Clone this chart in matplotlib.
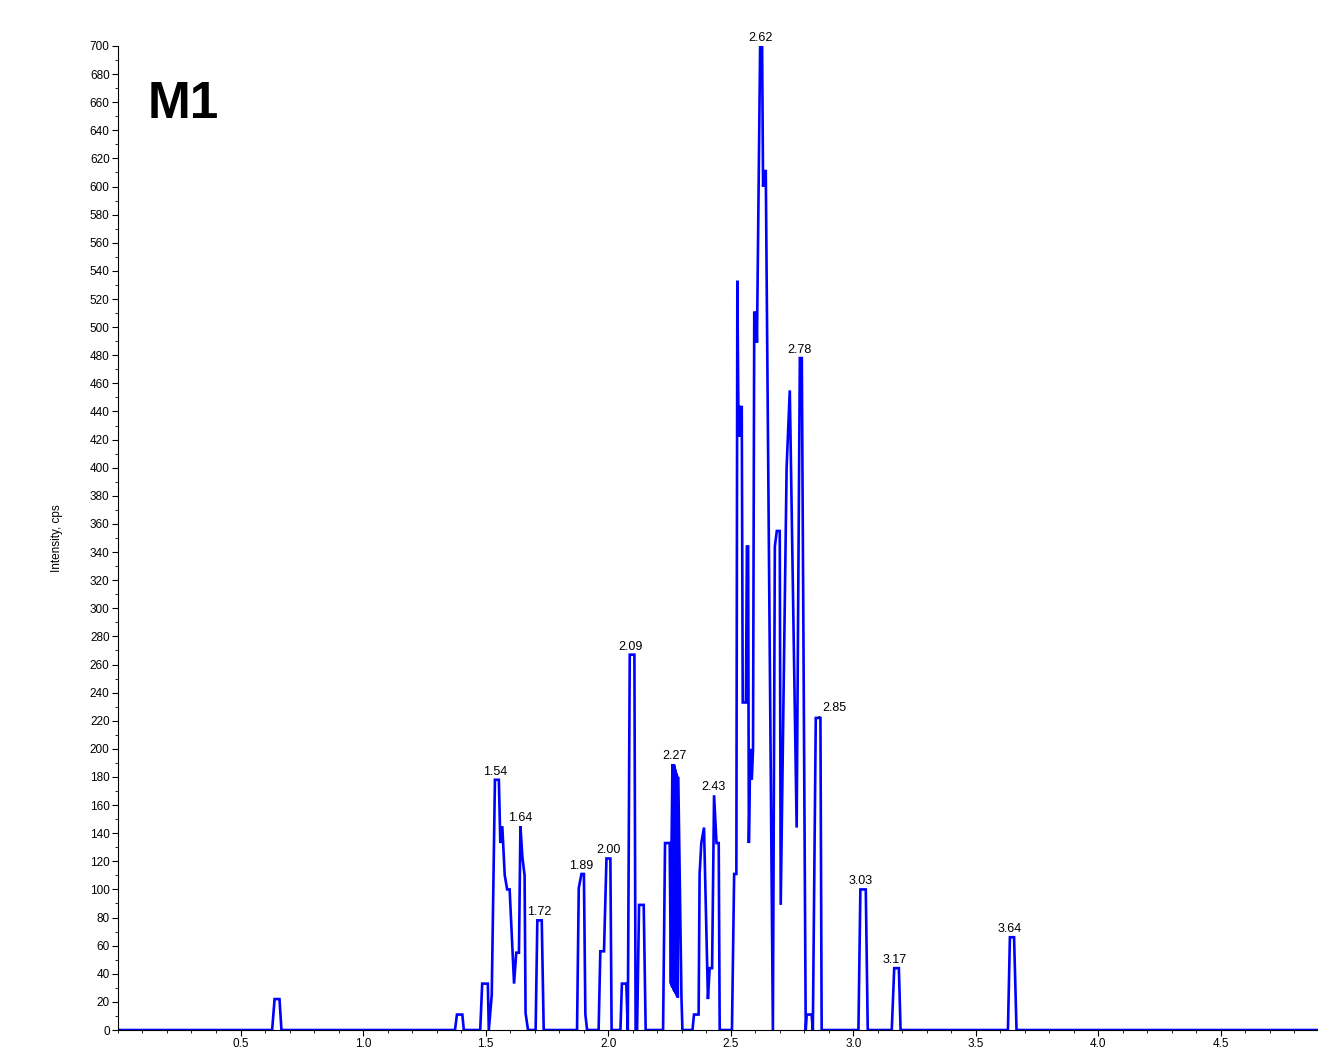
"""
XIC trace for M1 - recreated chromatogram (intensity vs. time).
"""
import numpy as np
import matplotlib.pyplot as plt
from matplotlib.ticker import MultipleLocator

plt.rcParams['font.family'] = ['Liberation Sans', 'DejaVu Sans']

# trace points (time in min, intensity in cps)
TIME = [0.00, 0.629, 0.639, 0.659, 0.667,
        1.375, 1.383, 1.405, 1.411,
        1.478, 1.486, 1.509, 1.513, 1.525, 1.538, 1.554, 1.560, 1.568, 1.578,
        1.588, 1.598, 1.616, 1.625, 1.636, 1.642, 1.650, 1.659, 1.663, 1.673,
        1.704, 1.711, 1.729, 1.737,
        1.873, 1.880, 1.891, 1.901, 1.907, 1.914,
        1.961, 1.968, 1.983, 1.993, 2.009, 2.014,
        2.050, 2.056, 2.074, 2.080, 2.088, 2.107, 2.112, 2.118, 2.126, 2.145, 2.153,
        2.224, 2.232, 2.251, 2.256, 2.262, 2.258, 2.264, 2.260, 2.266, 2.263,
        2.268, 2.266, 2.270, 2.269, 2.272, 2.272, 2.275, 2.275, 2.277, 2.278,
        2.279, 2.281, 2.281, 2.284, 2.286, 2.299, 2.303,
        2.344, 2.350, 2.369, 2.373, 2.380, 2.391, 2.407, 2.414, 2.424, 2.432,
        2.442, 2.451, 2.455,
        2.505, 2.514, 2.523, 2.527, 2.532, 2.536, 2.540, 2.545, 2.549, 2.562,
        2.566, 2.571, 2.574, 2.580, 2.586, 2.591, 2.596, 2.600, 2.604, 2.607,
        2.620, 2.628, 2.632, 2.638, 2.643, 2.672,
        2.680, 2.688, 2.700, 2.704, 2.728, 2.741, 2.769, 2.782, 2.790, 2.806,
        2.810, 2.830, 2.835, 2.847, 2.866, 2.871,
        3.021, 3.029, 3.051, 3.059,
        3.157, 3.167, 3.186, 3.193,
        3.631, 3.639, 3.656, 3.666, 4.896]
INTENSITY = [0, 0, 22, 22, 0,
             0, 11, 11, 0,
             0, 33, 33, 0, 25, 178, 178, 133, 145, 110,
             100, 100, 33, 55, 55, 145, 123, 110, 12, 0,
             0, 78, 78, 0,
             0, 101, 111, 111, 11, 0,
             0, 56, 56, 122, 122, 0,
             0, 33, 33, 0, 267, 267, 0, 0, 89, 89, 0,
             0, 133, 133, 33, 189, 32, 189, 31, 189, 30,
             189, 29, 188, 28, 186, 27, 185, 26, 183, 25,
             182, 24, 181, 23, 180, 23, 0,
             0, 11, 11, 111, 133, 144, 22, 44, 44, 167,
             133, 133, 0,
             0, 111, 111, 533, 422, 444, 422, 444, 233, 233,
             344, 344, 133, 200, 178, 200, 511, 489, 511, 489,
             700, 700, 600, 611, 611, 0,
             344, 355, 355, 89, 400, 455, 144, 478, 478, 0,
             11, 11, 0, 222, 222, 0,
             0, 100, 100, 0,
             0, 44, 44, 0,
             0, 66, 66, 0, 0]

PEAK_LABELS = ['1.54', '1.64', '1.72', '1.89', '2.00', '2.09', '2.27', '2.43',
               '2.62', '2.78', '3.03', '3.17', '3.64']
PEAK_T = [1.541, 1.643, 1.720, 1.890, 2.000, 2.090, 2.270, 2.430,
          2.620, 2.780, 3.030, 3.170, 3.640]
PEAK_I = [178, 145, 78, 111, 122, 267, 189, 167, 700, 478, 100, 44, 66]


def main():
    fig = plt.figure(figsize=(13.18, 10.52), dpi=100)
    ax = fig.add_axes([0.0895, 0.0209, 0.9105, 0.9354])

    ax.plot(TIME, INTENSITY, color='#0000FF', lw=1.9, solid_joinstyle='miter')

    for lab, t, y in zip(PEAK_LABELS, PEAK_T, PEAK_I):
        ax.annotate(lab, (t, y), xytext=(0, 1.5), textcoords='offset points',
                    ha='center', va='bottom', fontsize=9)
    # 2.85 label sits to the right with a small leader
    ax.annotate('2.85', (2.852, 222), xytext=(4, 3), textcoords='offset points',
                ha='left', va='bottom', fontsize=9,
                arrowprops=dict(arrowstyle='-', lw=0.6, color='k',
                                shrinkA=0, shrinkB=0))

    ax.text(0.025, 0.965, 'M1', transform=ax.transAxes, fontsize=37,
            fontweight='bold', ha='left', va='top')

    ax.set_xlim(0, 4.896)
    ax.set_ylim(0, 700)
    ax.xaxis.set_minor_locator(MultipleLocator(0.1))
    ax.yaxis.set_major_locator(MultipleLocator(20))
    ax.yaxis.set_minor_locator(MultipleLocator(10))
    ax.set_xticks(np.arange(0.5, 4.6, 0.5))
    ax.tick_params(which='major', length=4, width=0.8, labelsize=8.5, pad=2)
    ax.tick_params(which='minor', length=2.5, width=0.6)
    ax.spines['top'].set_visible(False)
    ax.spines['right'].set_visible(False)

    ax.set_xlabel('Time, min', fontsize=8.5, labelpad=1)
    ax.set_ylabel('Intensity, cps', fontsize=8.5, labelpad=19)

    fig.savefig('out.png', dpi=100)
    plt.close(fig)


if __name__ == '__main__':
    main()
